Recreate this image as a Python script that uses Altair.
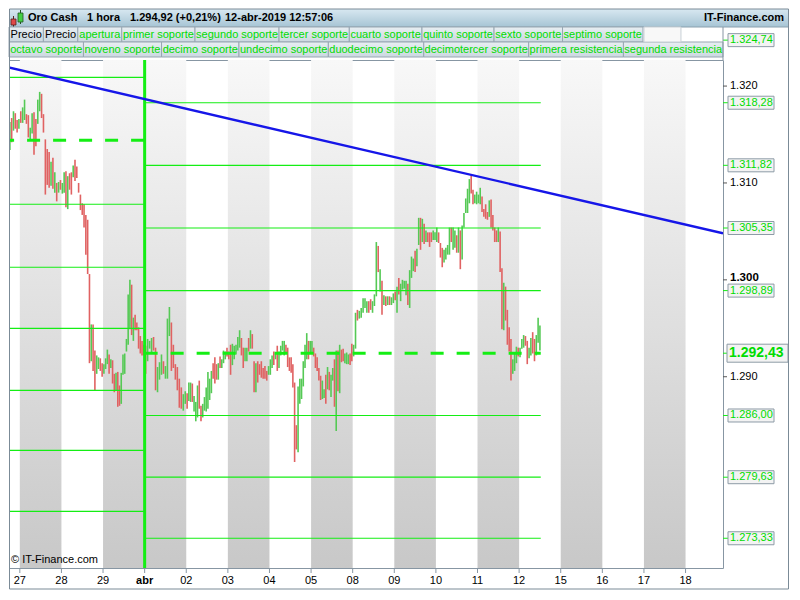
import altair as alt
import pandas as pd

# ---------------- layout ----------------
W, H = 714, 508
RP = 66            # right price panel
TW = W + RP
FONT = "Liberation Sans"
LG = "#14ee14"     # level green
TXTG = "#00dc00"
UPC = "#55c955"
DNC = "#e06262"
FRAME = "#8796a3"

# ---------------- data ----------------
day_labels = ["27", "28", "29", "abr", "02", "03", "04", "05", "08", "09",
              "10", "11", "12", "15", "16", "17", "18"]
day_numbers = [27, 28, 29, 1, 2, 3, 4, 5, 8, 9, 10, 11, 12, 15, 16, 17, 18]

x_domain = [-0.26, 16.9]
y_domain = [1.27026, 1.32269]
y_ticks = [1.29, 1.30, 1.31, 1.32]

prev_levels = [1.3209, 1.3078, 1.3013, 1.2950, 1.2886, 1.2824, 1.2761]
prev_pivot = 1.3144
cur_levels = [1.32474, 1.31828, 1.31182, 1.30535, 1.29889, 1.28600, 1.27963, 1.27333]
cur_pivot = 1.29243
week_start = 3.0
last_bar_t = 12.52

trend_t = [-0.45, 16.9]
trend_p = [1.3221, 1.3048]

title_parts = ["Oro Cash", "1 hora", "1.294,92 (+0,21%)", "12-abr-2019 12:57:06"]
site_name = "IT-Finance.com"
legend_row1 = ["Precio", "Precio", "apertura", "primer soporte", "segundo soporte",
               "tercer soporte", "cuarto soporte", "quinto soporte", "sexto soporte",
               "septimo soporte"]
legend_row2 = ["octavo soporte", "noveno soporte", "decimo soporte", "undecimo soporte",
               "duodecimo soporte", "decimotercer soporte", "primera resistencia",
               "segunda resistencia"]

# hourly bars per day: (direction, high, low)
d0326 = [("G",1.3171,1.3142),("G",1.3163,1.3134),("R",1.3167,1.3142),("G",1.3174,1.3154),
         ("R",1.3172,1.3156),("R",1.3165,1.3152),("G",1.3166,1.3156)]
d0327 = [("R",1.3174,1.3162),("G",1.3178,1.3162),("G",1.3186,1.3165),("R",1.3171,1.3161),
         ("R",1.3170,1.3147),("G",1.3157,1.3145),("G",1.3172,1.3151),("R",1.3173,1.3129),
         ("R",1.3166,1.3138),("G",1.3186,1.3161),("G",1.3194,1.3174),("R",1.3192,1.3167),
         ("R",1.3171,1.3152),("R",1.3145,1.3088),("R",1.3135,1.3098),("R",1.3132,1.3095),
         ("G",1.3122,1.3097),("R",1.3126,1.3094),("G",1.3111,1.3090),("R",1.3100,1.3081),
         ("G",1.3101,1.3090),("R",1.3103,1.3093)]
d0328 = [("G",1.3100,1.3089),("G",1.3111,1.3090),("R",1.3112,1.3075),("G",1.3107,1.3073),
         ("R",1.3110,1.3093),("R",1.3111,1.3088),("G",1.3118,1.3106),("R",1.3124,1.3102),
         ("R",1.3117,1.3105),("R",1.3100,1.3090),("R",1.3088,1.3072),("R",1.3079,1.3067),
         ("R",1.3078,1.3054),("R",1.3067,1.3026),("R",1.3062,1.3006),("R",1.3006,1.2914),
         ("G",1.2954,1.2916),("R",1.2954,1.2906),("R",1.2927,1.2886),("G",1.2922,1.2903),
         ("G",1.2920,1.2908),("R",1.2919,1.2906),("R",1.2914,1.2900)]
d0329 = [("G",1.2913,1.2903),("G",1.2919,1.2908),("G",1.2928,1.2913),("R",1.2923,1.2903),
         ("G",1.2918,1.2909),("R",1.2917,1.2893),("R",1.2903,1.2884),("G",1.2904,1.2886),
         ("R",1.2905,1.2869),("R",1.2891,1.2870),("G",1.2904,1.2872),("G",1.2923,1.2902),
         ("G",1.2924,1.2903),("G",1.2939,1.2926),("G",1.2985,1.2933),("G",1.3000,1.2949),
         ("R",1.2995,1.2943),("G",1.2961,1.2937),("R",1.2964,1.2948),("R",1.2956,1.2948),
         ("R",1.2951,1.2929),("R",1.2942,1.2924),("R",1.2937,1.2922),("R",1.2933,1.2922)]
d0401 = [("R",1.2932,1.2903),("G",1.2939,1.2916),("G",1.2937,1.2929),("G",1.2940,1.2924),
         ("R",1.2941,1.2927),("R",1.2930,1.2886),("G",1.2910,1.2884),("G",1.2915,1.2897),
         ("G",1.2923,1.2902),("R",1.2916,1.2903),("G",1.2911,1.2898),("G",1.2960,1.2898),
         ("G",1.2972,1.2942),("R",1.2956,1.2906),("R",1.2933,1.2909),("R",1.2913,1.2897),
         ("R",1.2910,1.2886),("R",1.2898,1.2868),("R",1.2889,1.2867),("G",1.2882,1.2865),
         ("G",1.2885,1.2872)]
d0402 = [("R",1.2883,1.2867),("G",1.2894,1.2875),("G",1.2894,1.2874),("R",1.2893,1.2874),
         ("G",1.2880,1.2864),("G",1.2874,1.2854),("G",1.2891,1.2858),("R",1.2896,1.2867),
         ("R",1.2870,1.2854),("G",1.2872,1.2858),("G",1.2879,1.2865),("G",1.2889,1.2864),
         ("G",1.2905,1.2867),("G",1.2898,1.2876),("G",1.2906,1.2883),("R",1.2914,1.2898),
         ("R",1.2920,1.2893),("R",1.2913,1.2897),("G",1.2914,1.2897),("R",1.2921,1.2909),
         ("G",1.2918,1.2909),("G",1.2927,1.2914),("G",1.2926,1.2918),("R",1.2930,1.2921)]
d0403 = [("R",1.2926,1.2918),("R",1.2933,1.2902),("G",1.2934,1.2912),("G",1.2932,1.2918),
         ("G",1.2933,1.2923),("G",1.2941,1.2927),("G",1.2948,1.2930),("R",1.2940,1.2922),
         ("R",1.2930,1.2909),("G",1.2930,1.2916),("G",1.2930,1.2916),("R",1.2940,1.2926),
         ("G",1.2948,1.2929),("R",1.2944,1.2929),("R",1.2916,1.2884),("G",1.2914,1.2884),
         ("R",1.2916,1.2894),("R",1.2913,1.2902),("R",1.2916,1.2899),("R",1.2909,1.2898),
         ("R",1.2911,1.2898),("R",1.2906,1.2896),("G",1.2911,1.2902)]
d0404 = [("G",1.2918,1.2902),("G",1.2922,1.2909),("R",1.2926,1.2912),("G",1.2925,1.2918),
         ("R",1.2932,1.2906),("G",1.2926,1.2909),("G",1.2932,1.2922),("G",1.2937,1.2927),
         ("G",1.2937,1.2922),("R",1.2933,1.2924),("R",1.2930,1.2910),("R",1.2920,1.2906),
         ("R",1.2920,1.2904),("R",1.2913,1.2889),("R",1.2894,1.2812),("R",1.2850,1.2825),
         ("G",1.2890,1.2822),("G",1.2898,1.2872),("G",1.2898,1.2877),("G",1.2916,1.2890),
         ("G",1.2933,1.2909),("G",1.2945,1.2918),("R",1.2937,1.2918),("G",1.2937,1.2924)]
d0405 = [("G",1.2937,1.2924),("R",1.2930,1.2921),("R",1.2924,1.2909),("R",1.2920,1.2906),
         ("R",1.2909,1.2896),("R",1.2901,1.2876),("G",1.2896,1.2877),("G",1.2887,1.2878),
         ("R",1.2902,1.2872),("G",1.2910,1.2887),("R",1.2905,1.2886),("G",1.2902,1.2879),
         ("G",1.2909,1.2896),("R",1.2918,1.2869),("G",1.2927,1.2844),("R",1.2927,1.2885),
         ("G",1.2933,1.2883),("R",1.2928,1.2915),("R",1.2929,1.2916),("G",1.2924,1.2914),
         ("G",1.2925,1.2913),("G",1.2923,1.2913),("R",1.2924,1.2912),("R",1.2934,1.2916)]
d0408 = [("G",1.2933,1.2921),("G",1.2966,1.2929),("R",1.2969,1.2958),("G",1.2968,1.2960),
         ("G",1.2971,1.2961),("G",1.2981,1.2966),("G",1.2981,1.2971),("G",1.2978,1.2966),
         ("R",1.2978,1.2966),("R",1.2980,1.2969),("G",1.2978,1.2966),("G",1.2985,1.2973),
         ("G",1.3039,1.2983),("R",1.3035,1.3008),("G",1.3011,1.2988),("R",1.2999,1.2964),
         ("G",1.2984,1.2974),("R",1.2983,1.2973),("G",1.2983,1.2974),("R",1.2983,1.2974),
         ("G",1.2982,1.2974),("G",1.2986,1.2976)]
d0409 = [("R",1.2988,1.2979),("G",1.2993,1.2966),("R",1.3002,1.2985),("G",1.2996,1.2978),
         ("G",1.3000,1.2990),("G",1.2999,1.2991),("G",1.2999,1.2984),("R",1.2996,1.2974),
         ("G",1.3010,1.2971),("G",1.3024,1.3002),("G",1.3022,1.3009),("R",1.3030,1.3008),
         ("G",1.3032,1.3014),("G",1.3064,1.3036),("R",1.3064,1.3031),("G",1.3063,1.3039),
         ("R",1.3058,1.3037),("G",1.3051,1.3039),("R",1.3049,1.3039),("R",1.3049,1.3034),
         ("R",1.3049,1.3039),("G",1.3051,1.3041),("G",1.3049,1.3041)]
d0410 = [("G",1.3054,1.3039),("R",1.3049,1.3038),("R",1.3038,1.3023),("R",1.3033,1.3013),
         ("G",1.3031,1.3018),("G",1.3033,1.3021),("G",1.3036,1.3026),("G",1.3054,1.3026),
         ("R",1.3054,1.3039),("G",1.3054,1.3031),("G",1.3051,1.3033),("R",1.3046,1.3028),
         ("G",1.3054,1.3028),("R",1.3051,1.3011),("G",1.3056,1.3021),("G",1.3069,1.3054),
         ("G",1.3084,1.3069),("G",1.3094,1.3069),("G",1.3104,1.3079),("R",1.3108,1.3089),
         ("R",1.3093,1.3078),("G",1.3088,1.3079),("G",1.3091,1.3078)]
d0411 = [("G",1.3088,1.3079),("G",1.3095,1.3078),("R",1.3086,1.3070),("R",1.3073,1.3065),
         ("R",1.3078,1.3063),("R",1.3070,1.3062),("G",1.3082,1.3065),("R",1.3083,1.3054),
         ("R",1.3067,1.3051),("R",1.3054,1.3039),("R",1.3051,1.3039),("G",1.3054,1.3039),
         ("R",1.3050,1.3008),("R",1.3012,1.2949),("G",1.2997,1.2948),("R",1.2993,1.2958),
         ("R",1.2969,1.2933),("R",1.2951,1.2926),("R",1.2939,1.2896),("G",1.2918,1.2903),
         ("G",1.2924,1.2906),("G",1.2931,1.2914),("R",1.2930,1.2921)]
d0412 = [("G",1.2930,1.2920),("G",1.2939,1.2929),("G",1.2943,1.2930),("R",1.2942,1.2932),
         ("R",1.2937,1.2913),("G",1.2930,1.2919),("G",1.2940,1.2922),("R",1.2946,1.2924),
         ("R",1.2939,1.2916),("G",1.2943,1.2922),("G",1.2961,1.2935),("G",1.2953,1.2927)]

# ---------------- tables ----------------
days = [(-1, d0326, "tail"), (0, d0327, "full"), (1, d0328, "full"), (2, d0329, "full"),
        (3, d0401, "full"), (4, d0402, "full"), (5, d0403, "full"), (6, d0404, "full"),
        (7, d0405, "full"), (8, d0408, "full"), (9, d0409, "full"), (10, d0410, "full"),
        (11, d0411, "full"), (12, d0412, "head")]
rows = []
for idx, bars, kind in days:
    n = len(bars)
    for k, (d, hi, lo) in enumerate(bars):
        if kind == "full":
            t = idx + (k + 0.5) / n
        elif kind == "tail":
            t = idx + (23 - n + k + 0.5) / 23
        else:
            t = idx + (k + 0.5) / 23
        rows.append({"t": t, "hi": hi, "lo": lo, "dir": "up" if d == "G" else "down"})
candles_df = pd.DataFrame(rows)

bands_df = pd.DataFrame([{"t0": i, "t1": i + 1} for i, dn in enumerate(day_numbers) if dn % 2 == 1])
xticks_df = pd.DataFrame({"t": list(range(len(day_labels))), "label": day_labels})
yticks_df = pd.DataFrame({"p": y_ticks, "label": [f"{v:.3f}" for v in y_ticks]})

lev_rows = [{"t0": -0.45, "t1": week_start, "p": p} for p in prev_levels]
lev_rows += [{"t0": week_start, "t1": last_bar_t, "p": p} for p in cur_levels]
levels_df = pd.DataFrame(lev_rows)
pivots_df = pd.DataFrame([{"t0": -0.45, "t1": week_start, "p": prev_pivot},
                          {"t0": week_start, "t1": last_bar_t, "p": cur_pivot}])
trend_df = pd.DataFrame({"t": trend_t, "p": trend_p})


def es_fmt(v):
    s = format(v * 1000, ",.2f")
    return s.replace(",", "X").replace(".", ",").replace("X", ".")


ppx = (y_domain[1] - y_domain[0]) / H
lab_df = pd.DataFrame({"p": cur_levels, "label": [es_fmt(v) for v in cur_levels]})
lab_df["top"] = lab_df["p"] + 6.5 * ppx
lab_df["bot"] = lab_df["p"] - 6.5 * ppx
piv_df = pd.DataFrame({"p": [cur_pivot], "label": [es_fmt(cur_pivot)]})
piv_df["top"] = piv_df["p"] + 9 * ppx
piv_df["bot"] = piv_df["p"] - 9 * ppx

# legend boxes (pixel layout computed from Arial metrics)
AW = dict(zip("abcdefghijklmnopqrstuvwxyz",
              [556, 556, 500, 556, 556, 278, 556, 556, 222, 222, 500, 222, 833, 556,
               556, 556, 556, 333, 500, 278, 556, 500, 722, 500, 500, 500]))
AW[" "] = 278
AW["P"] = 667


def text_w(s, size=11):
    return sum(AW.get(c, 556) for c in s) * size / 1000


w2 = [text_w(s) + 4 for s in legend_row2]
sc = W / sum(w2)
leg = []
x = 0.0
for s in legend_row1:
    w = (text_w(s) + 4) * sc
    leg.append({"x0": x, "x1": x + w, "y0": -33, "y1": -18, "label": s,
                "tc": "#000000" if s == "Precio" else TXTG})
    x += w
blank_x0 = x + 1
x = 0.0
for s, w in zip(legend_row2, w2):
    leg.append({"x0": x, "x1": x + w * sc, "y0": -18, "y1": -3, "label": s, "tc": TXTG})
    x += w * sc
legend_df = pd.DataFrame(leg)
legend_df["xc"] = (legend_df["x0"] + legend_df["x1"]) / 2
legend_df["yc"] = (legend_df["y0"] + legend_df["y1"]) / 2

title_x = [19, 78, 121, 216]
title_df = pd.DataFrame({"x": title_x, "label": title_parts})

# ---------------- scales & helpers ----------------
xs = alt.Scale(domain=x_domain, nice=False, zero=False)
ys = alt.Scale(domain=y_domain, nice=False, zero=False)


def grad(c0, c1):
    return alt.LinearGradient(gradient="linear",
                              stops=[alt.GradientStop(color=c0, offset=0),
                                     alt.GradientStop(color=c1, offset=1)],
                              x1=0, x2=0, y1=0, y2=1)


def SX(f):
    return alt.X(f, type="quantitative", scale=xs, axis=None)


def SY(f):
    return alt.Y(f, type="quantitative", scale=ys, axis=None)


def PX(f):
    return alt.X(f, type="quantitative", scale=None, axis=None)


def PY(f):
    return alt.Y(f, type="quantitative", scale=None, axis=None)


one = pd.DataFrame({"a": [0]})

# ---------------- layers ----------------
bands = alt.Chart(bands_df).mark_rect(color=grad("#f8f8f8", "#c8c8c8")).encode(
    x=SX("t0"), x2="t1:Q", y=alt.value(0), y2=alt.value(H))

candles = alt.Chart(candles_df).mark_rule(strokeWidth=1.6, clip=True).encode(
    x=SX("t"), y=SY("lo"), y2="hi:Q",
    color=alt.Color("dir:N", scale=alt.Scale(domain=["up", "down"], range=[UPC, DNC]), legend=None))

level_lines = alt.Chart(levels_df).mark_rule(color=LG, strokeWidth=1.2, clip=True).encode(
    x=SX("t0"), x2="t1:Q", y=SY("p"))

pivot_lines = alt.Chart(pivots_df).mark_rule(color=LG, strokeWidth=3, strokeDash=[13, 13], clip=True).encode(
    x=SX("t0"), x2="t1:Q", y=SY("p"))

week_line = alt.Chart(pd.DataFrame({"t": [week_start]})).mark_rule(color=LG, strokeWidth=3).encode(
    x=SX("t"), y=alt.value(0), y2=alt.value(H))

trend = alt.Chart(trend_df).mark_line(color="#1616e8", strokeWidth=2.4, clip=True).encode(
    x=SX("t"), y=SY("p"))

# bottom date axis (drawn from the day table through the x scale)
x_tick_marks = alt.Chart(xticks_df).mark_rule(color=FRAME).encode(
    x=SX("t"), y=alt.value(H), y2=alt.value(H + 5))
x_tick_text = alt.Chart(xticks_df).transform_filter("datum.label != 'abr'").mark_text(
    align="center", baseline="top", font=FONT, fontSize=11, color="#000000").encode(
    x=SX("t"), y=alt.value(H + 7), text="label:N")
x_tick_bold = alt.Chart(xticks_df).transform_filter("datum.label == 'abr'").mark_text(
    align="center", baseline="top", font=FONT, fontSize=11, fontWeight="bold", color="#000000").encode(
    x=SX("t"), y=alt.value(H + 7), text="label:N")

# right price axis
y_tick_marks = alt.Chart(yticks_df).mark_rule(color="#555555").encode(
    x=alt.value(W), x2=alt.value(W + 4), y=SY("p"))
y_tick_text = alt.Chart(yticks_df).transform_filter("datum.label != '1.300'").mark_text(
    align="left", baseline="middle", font=FONT, fontSize=11, color="#000000").encode(
    x=alt.value(W + 7), y=SY("p"), text="label:N")
y_tick_bold = alt.Chart(yticks_df).transform_filter("datum.label == '1.300'").mark_text(
    align="left", baseline="middle", font=FONT, fontSize=11.5, fontWeight="bold", color="#000000",
    dy=-2).encode(
    x=alt.value(W + 7), y=SY("p"), text="label:N")

lab_ticks = alt.Chart(lab_df).mark_rule(color=LG).encode(
    x=alt.value(W), x2=alt.value(W + 5), y=SY("p"))
lab_boxes = alt.Chart(lab_df).mark_rect(fill="#f3f3f3", stroke="#8d9ba6", strokeWidth=1).encode(
    x=alt.value(W + 5), x2=alt.value(W + 51), y=SY("top"), y2="bot:Q")
lab_text = alt.Chart(lab_df).mark_text(align="left", baseline="middle", font=FONT, fontSize=11,
                                       color=TXTG).encode(
    x=alt.value(W + 7), y=SY("p"), text="label:N")

piv_tick = alt.Chart(piv_df).mark_rule(color=LG).encode(
    x=alt.value(W), x2=alt.value(W + 4), y=SY("p"))
piv_box = alt.Chart(piv_df).mark_rect(fill="#f3f3f3", stroke="#8d9ba6", strokeWidth=1).encode(
    x=alt.value(W + 4), x2=alt.value(W + 65), y=SY("top"), y2="bot:Q")
piv_text = alt.Chart(piv_df).mark_text(align="left", baseline="middle", font=FONT, fontSize=14,
                                       fontWeight="bold", color=TXTG).encode(
    x=alt.value(W + 6), y=SY("p"), text="label:N")

copyright_txt = alt.Chart(one).mark_text(align="left", baseline="bottom", font=FONT, fontSize=11,
                                         color="#000000", text="© " + site_name).encode(
    x=alt.value(2), y=alt.value(H - 3))

# header
header_bar = alt.Chart(one).mark_rect(color=grad("#d8e8f1", "#a6c4d4")).encode(
    x=alt.value(0), x2=alt.value(TW), y=alt.value(-51), y2=alt.value(-33))
header_line = alt.Chart(one).mark_rule(color="#8aa0ae").encode(
    x=alt.value(0), x2=alt.value(TW), y=alt.value(-33))
title_txt = alt.Chart(title_df).mark_text(align="left", baseline="middle", font=FONT, fontSize=11,
                                          fontWeight="bold", color="#000000").encode(
    x=PX("x"), y=alt.value(-42), text="label:N")
site_txt = alt.Chart(one).mark_text(align="right", baseline="middle", font=FONT, fontSize=11,
                                    fontWeight="bold", color="#000000", text=site_name).encode(
    x=alt.value(TW - 5), y=alt.value(-42))
icon_red = alt.Chart(one).mark_rect(fill="#e04848", stroke="#552222", strokeWidth=0.8).encode(
    x=alt.value(2), x2=alt.value(7), y=alt.value(-41), y2=alt.value(-35))
icon_red_w = alt.Chart(one).mark_rule(color="#552222").encode(
    x=alt.value(4.5), y=alt.value(-44), y2=alt.value(-33))
icon_grn = alt.Chart(one).mark_rect(fill="#44d044", stroke="#225522", strokeWidth=0.8).encode(
    x=alt.value(9), x2=alt.value(14), y=alt.value(-47), y2=alt.value(-38))
icon_grn_w = alt.Chart(one).mark_rule(color="#225522").encode(
    x=alt.value(11.5), y=alt.value(-50), y2=alt.value(-36))

legend_boxes = alt.Chart(legend_df).mark_rect(color=grad("#e8eef2", "#cbd8e0"), stroke="#98a7b2",
                                              strokeWidth=1).encode(
    x=PX("x0"), x2="x1:Q", y=PY("y0"), y2="y1:Q")
legend_text = alt.Chart(legend_df).mark_text(align="center", baseline="middle", font=FONT,
                                             fontSize=11).encode(
    x=PX("xc"), y=PY("yc"), text="label:N",
    color=alt.Color("tc:N", scale=None))
legend_blank = alt.Chart(one).mark_rect(fill="#f8f8f8", stroke="#c8d0d6", strokeWidth=1).encode(
    x=alt.value(blank_x0), x2=alt.value(blank_x0 + 37), y=alt.value(-33), y2=alt.value(-18))
legend_edge = alt.Chart(one).mark_rule(color=FRAME).encode(
    x=alt.value(W), y=alt.value(-33), y2=alt.value(0))

outer = alt.Chart(one).mark_rect(filled=False, stroke="#7b8b97", strokeWidth=1).encode(
    x=alt.value(0.5), x2=alt.value(TW - 0.5), y=alt.value(-51), y2=alt.value(H + 21))

chart = alt.layer(
    bands, candles, level_lines, pivot_lines, week_line, trend,
    x_tick_marks, x_tick_text, x_tick_bold, y_tick_marks, y_tick_text, y_tick_bold,
    lab_ticks, lab_boxes, lab_text, piv_tick, piv_box, piv_text, copyright_txt,
    header_bar, header_line, title_txt, site_txt, icon_red_w, icon_red, icon_grn_w, icon_grn,
    legend_boxes, legend_blank, legend_text, legend_edge, outer
).properties(
    width=W, height=H, padding=0, background="#ffffff"
).configure_view(stroke=FRAME, strokeWidth=1)

chart.save("out.html", embed_options={"renderer": "svg", "actions": False})
